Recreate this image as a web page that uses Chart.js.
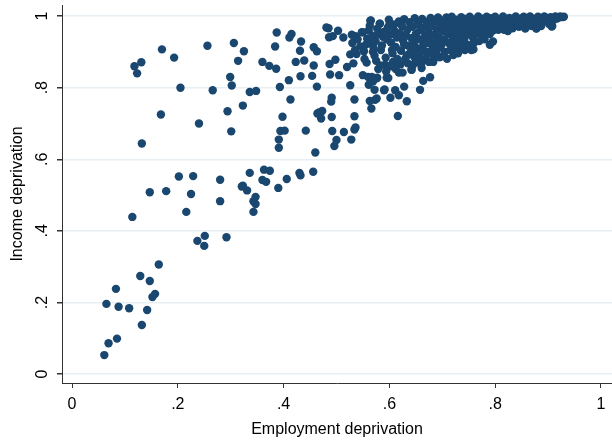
<!DOCTYPE html>
<html>
<head>
<meta charset="utf-8">
<script src="https://cdn.jsdelivr.net/npm/chart.js@4/dist/chart.umd.min.js"></script>
<style>
  html, body { margin: 0; padding: 0; background: #fff; }
  #wrap { width: 612px; height: 442px; }
</style>
</head>
<body>
<div id="wrap"><canvas id="chart" width="612" height="442"></canvas></div>
<script>
// tick values and labels
var xTickVals = [0, 0.2, 0.4, 0.6, 0.8, 1];
var xTickLabels = ["0", ".2", ".4", ".6", ".8", "1"];
var yTickVals = [0, 0.2, 0.4, 0.6, 0.8, 1];
var yTickLabels = ["0", ".2", ".4", ".6", ".8", "1"];

// scattered areas (employment deprivation, income deprivation)
var empLow = [0.061, 0.069, 0.085, 0.065, 0.088, 0.108, 0.083, 0.132, 0.142, 0.129, 0.147, 0.152, 0.157, 0.164,
  0.237, 0.251, 0.250, 0.292, 0.114, 0.147, 0.178, 0.202, 0.229, 0.225, 0.216, 0.280, 0.280, 0.321, 0.336,
  0.363, 0.374, 0.360, 0.367, 0.323, 0.331, 0.347, 0.343, 0.347, 0.343, 0.390, 0.406, 0.430, 0.432, 0.456];
var incLow = [0.053, 0.086, 0.099, 0.196, 0.188, 0.184, 0.238, 0.137, 0.179, 0.274, 0.260, 0.215, 0.224, 0.306,
  0.372, 0.386, 0.358, 0.382, 0.439, 0.508, 0.511, 0.552, 0.553, 0.503, 0.453, 0.543, 0.483, 0.524, 0.562,
  0.571, 0.568, 0.542, 0.537, 0.526, 0.513, 0.495, 0.483, 0.475, 0.453, 0.520, 0.545, 0.562, 0.555, 0.565];

var empMid = [0.170, 0.193, 0.256, 0.306, 0.325, 0.314, 0.118, 0.131, 0.123, 0.205, 0.266, 0.299, 0.302, 0.323,
  0.168, 0.240, 0.294, 0.301, 0.132, 0.387, 0.411, 0.415, 0.433, 0.384, 0.431, 0.457, 0.463, 0.485, 0.503,
  0.486, 0.493, 0.513, 0.360, 0.373, 0.386, 0.423, 0.439, 0.457, 0.432, 0.454, 0.410, 0.393, 0.463, 0.487,
  0.498, 0.488, 0.505, 0.526, 0.538, 0.520, 0.532, 0.526, 0.336, 0.348, 0.413, 0.491, 0.490, 0.534, 0.398,
  0.467, 0.473, 0.464, 0.471, 0.491, 0.534, 0.394, 0.402, 0.391, 0.391, 0.442, 0.492, 0.514, 0.534, 0.536,
  0.500, 0.496, 0.528, 0.460, 0.563, 0.573, 0.566, 0.550, 0.560, 0.577, 0.595, 0.592, 0.561, 0.572, 0.591,
  0.576, 0.481, 0.529, 0.536, 0.550, 0.564, 0.582, 0.589, 0.600, 0.609, 0.567, 0.569, 0.590, 0.611, 0.602,
  0.616, 0.579, 0.605, 0.618, 0.576, 0.598, 0.633, 0.618, 0.628, 0.658, 0.664, 0.677, 0.642, 0.645, 0.652,
  0.759, 0.790, 0.796, 0.667, 0.683, 0.696, 0.709, 0.721, 0.730, 0.743, 0.755, 0.878, 0.907];
var incMid = [0.907, 0.884, 0.917, 0.925, 0.902, 0.875, 0.860, 0.871, 0.840, 0.800, 0.793, 0.830, 0.806, 0.750,
  0.725, 0.700, 0.734, 0.678, 0.644, 0.954, 0.940, 0.950, 0.929, 0.915, 0.903, 0.913, 0.902, 0.966, 0.959,
  0.941, 0.944, 0.940, 0.872, 0.861, 0.853, 0.872, 0.876, 0.862, 0.832, 0.833, 0.821, 0.802, 0.803, 0.866,
  0.878, 0.837, 0.835, 0.893, 0.894, 0.858, 0.868, 0.807, 0.788, 0.791, 0.767, 0.772, 0.761, 0.767, 0.719,
  0.731, 0.735, 0.728, 0.714, 0.718, 0.720, 0.679, 0.680, 0.655, 0.632, 0.680, 0.679, 0.676, 0.683, 0.689,
  0.654, 0.637, 0.655, 0.619, 0.763, 0.766, 0.742, 0.835, 0.830, 0.828, 0.828, 0.864, 0.808, 0.794, 0.795,
  0.770, 0.968, 0.948, 0.944, 0.955, 0.987, 0.979, 0.954, 0.976, 0.976, 0.830, 0.817, 0.793, 0.793, 0.772,
  0.721, 0.852, 0.860, 0.842, 0.826, 0.827, 0.762, 0.779, 0.803, 0.794, 0.819, 0.829, 0.850, 0.864, 0.873,
  0.907, 0.920, 0.929, 0.877, 0.872, 0.886, 0.881, 0.891, 0.896, 0.905, 0.905, 0.965, 0.971];

// dense band in the upper right
var empBand = [0.530, 0.535, 0.540, 0.545, 0.548, 0.553, 0.557, 0.562, 0.569, 0.575,
  0.552, 0.556, 0.558, 0.561, 0.563, 0.565, 0.568, 0.570, 0.572, 0.574, 0.577, 0.579, 0.582, 0.584, 0.586,
  0.588, 0.590, 0.593, 0.595, 0.597, 0.599, 0.601, 0.603, 0.606, 0.608, 0.610, 0.612, 0.614, 0.616, 0.618,
  0.620, 0.622, 0.624, 0.626, 0.628, 0.630, 0.632, 0.634, 0.636, 0.638, 0.640, 0.642, 0.644, 0.646, 0.648,
  0.650, 0.652, 0.654, 0.656, 0.658, 0.660, 0.662, 0.664, 0.666, 0.668, 0.670, 0.672, 0.674, 0.676, 0.678,
  0.680, 0.682, 0.684, 0.686, 0.688, 0.690, 0.692, 0.694, 0.696, 0.698, 0.700,
  0.702, 0.704, 0.706, 0.708, 0.710, 0.712, 0.714, 0.716, 0.718, 0.720, 0.722, 0.724, 0.726, 0.728, 0.730,
  0.732, 0.734, 0.736, 0.738, 0.740, 0.742, 0.744, 0.746, 0.748, 0.750, 0.752, 0.754, 0.756, 0.758, 0.760,
  0.762, 0.764, 0.766, 0.768, 0.770, 0.772, 0.774, 0.776, 0.778, 0.780, 0.782, 0.784, 0.786, 0.788, 0.790,
  0.792, 0.794, 0.796, 0.798,
  0.800, 0.803, 0.806, 0.809, 0.812, 0.815, 0.818, 0.821, 0.824, 0.827, 0.830, 0.833, 0.836, 0.839, 0.842,
  0.845, 0.848, 0.851, 0.854, 0.857, 0.860, 0.863, 0.866, 0.869, 0.872, 0.875, 0.878, 0.881, 0.884, 0.887,
  0.890, 0.893, 0.896, 0.899, 0.902, 0.905, 0.908, 0.911, 0.914, 0.917, 0.920, 0.923, 0.927, 0.930,
  0.600, 0.612, 0.625, 0.635, 0.642, 0.650, 0.660, 0.668, 0.675, 0.685, 0.695, 0.705, 0.715, 0.725, 0.735,
  0.748, 0.760, 0.770, 0.780,
  0.605, 0.615, 0.628, 0.638, 0.648, 0.655, 0.663, 0.672, 0.681, 0.690, 0.699, 0.708, 0.717, 0.727, 0.737,
  0.747, 0.757, 0.767, 0.777, 0.787, 0.797, 0.807, 0.817, 0.827, 0.837, 0.847, 0.857, 0.867, 0.877, 0.887,
  0.897, 0.583, 0.594, 0.607, 0.621, 0.633, 0.647, 0.661, 0.679, 0.693];
var incBand = [0.925, 0.905, 0.935, 0.915, 0.955, 0.880, 0.870, 0.925, 0.900, 0.875,
  0.902, 0.921, 0.937, 0.960, 0.973, 0.988, 0.945, 0.912, 0.889, 0.930, 0.965, 0.950, 0.979, 0.905, 0.918,
  0.942, 0.956, 0.884, 0.935, 0.968, 0.990, 0.948, 0.926, 0.896, 0.976, 0.958, 0.914, 0.940, 0.870, 0.985,
  0.952, 0.903, 0.972, 0.931, 0.991, 0.880, 0.945, 0.962, 0.917, 0.983, 0.897, 0.938, 0.970, 0.925, 0.994,
  0.950, 0.910, 0.978, 0.888, 0.960, 0.935, 0.992, 0.918, 0.968, 0.945, 0.983, 0.900, 0.955, 0.930, 0.995,
  0.972, 0.912, 0.948, 0.985, 0.925, 0.962, 0.996, 0.940, 0.978, 0.918, 0.958,
  0.988, 0.935, 0.970, 0.996, 0.950, 0.925, 0.982, 0.963, 0.998, 0.940, 0.975, 0.955, 0.990, 0.930, 0.968,
  0.985, 0.948, 0.997, 0.960, 0.978, 0.938, 0.992, 0.965, 0.950, 0.983, 0.998, 0.958, 0.975, 0.940, 0.990,
  0.968, 0.952, 0.985, 0.999, 0.962, 0.978, 0.945, 0.993, 0.970, 0.955, 0.987, 0.998, 0.966, 0.980, 0.950,
  0.994, 0.972, 0.960, 0.988,
  0.998, 0.975, 0.962, 0.990, 0.982, 0.999, 0.970, 0.986, 0.958, 0.995, 0.978, 0.966, 0.991, 0.999, 0.981,
  0.970, 0.993, 0.985, 0.998, 0.975, 0.990, 0.982, 0.999, 0.972, 0.992, 0.985, 0.966, 0.998, 0.988, 0.980,
  0.995, 0.999, 0.986, 0.992, 0.978, 0.997, 0.972, 0.990, 0.999, 0.993, 0.996, 0.999, 0.997, 0.998,
  0.860, 0.852, 0.842, 0.868, 0.850, 0.873, 0.865, 0.880, 0.872, 0.888, 0.885, 0.900, 0.905, 0.910, 0.915,
  0.920, 0.925, 0.930, 0.935,
  0.905, 0.880, 0.920, 0.895, 0.905, 0.935, 0.902, 0.925, 0.945, 0.905, 0.930, 0.960, 0.920, 0.945, 0.930,
  0.965, 0.945, 0.975, 0.958, 0.968, 0.978, 0.985, 0.962, 0.975, 0.988, 0.978, 0.965, 0.990, 0.982, 0.972,
  0.995, 0.862, 0.845, 0.872, 0.865, 0.890, 0.886, 0.855, 0.895, 0.912];

var pts = [];
function addPoints(xs, ys) {
    for (var i = 0; i < xs.length; i++) {
        pts.push({x: xs[i], y: ys[i]});
    }
}
addPoints(empLow, incLow);
addPoints(empMid, incMid);
addPoints(empBand, incBand);

var fontFamily = "'Liberation Sans', Arial, Helvetica, sans-serif";
var navy = "rgb(26,71,111)";

// rotated y tick labels, Stata style
var yLabelPlugin = {
    id: "yLabels",
    afterDraw: function (chart) {
        var ctx = chart.ctx;
        var yScale = chart.scales.y;
        ctx.save();
        ctx.fillStyle = "#000";
        ctx.font = "16px " + fontFamily;
        ctx.textAlign = "center";
        ctx.textBaseline = "middle";
        for (var i = 0; i < yTickVals.length; i++) {
            var py = yScale.getPixelForValue(yTickVals[i]);
            ctx.save();
            ctx.translate(43, py);
            ctx.rotate(-Math.PI / 2);
            ctx.fillText(yTickLabels[i], 0, 0);
            ctx.restore();
        }
        ctx.restore();
    }
};

var chart = new Chart(document.getElementById("chart"), {
    type: "scatter",
    data: {
        datasets: [{
            label: "Income deprivation",
            data: pts,
            backgroundColor: navy,
            borderWidth: 0,
            pointRadius: 4.2,
            pointHoverRadius: 4.2
        }]
    },
    options: {
        responsive: false,
        animation: false,
        devicePixelRatio: 1,
        layout: {
            autoPadding: false,
            padding: {top: 5, right: 0, bottom: 0, left: 0}
        },
        plugins: {
            legend: {display: false},
            tooltip: {enabled: false}
        },
        scales: {
            x: {
                type: "linear",
                min: -0.019,
                max: 1.021,
                afterBuildTicks: function (scale) {
                    scale.ticks = xTickVals.map(function (v) { return {value: v}; });
                },
                afterFit: function (scale) {
                    scale.height = 59;
                    scale.paddingLeft = 0;
                    scale.paddingRight = 0;
                },
                ticks: {
                    color: "#000",
                    padding: 7,
                    maxRotation: 0,
                    font: {family: fontFamily, size: 16},
                    callback: function (value) {
                        var idx = xTickVals.indexOf(value);
                        return idx >= 0 ? xTickLabels[idx] : "";
                    }
                },
                grid: {
                    drawOnChartArea: false,
                    drawTicks: true,
                    tickLength: 5,
                    tickColor: "#333"
                },
                border: {display: true, color: "#333", width: 1},
                title: {
                    display: true,
                    text: "Employment deprivation",
                    color: "#000",
                    font: {family: fontFamily, size: 16},
                    padding: {top: 0, bottom: 3}
                }
            },
            y: {
                type: "linear",
                min: -0.025,
                max: 1.031,
                afterBuildTicks: function (scale) {
                    scale.ticks = yTickVals.map(function (v) { return {value: v}; });
                },
                afterFit: function (scale) {
                    scale.width = 62;
                    scale.paddingTop = 0;
                    scale.paddingBottom = 0;
                },
                ticks: {display: false},
                grid: {
                    color: "rgb(232,239,243)",
                    lineWidth: 1.5,
                    drawTicks: true,
                    tickLength: 5,
                    tickColor: "#333"
                },
                border: {display: true, color: "#333", width: 1},
                title: {
                    display: true,
                    text: "Income deprivation",
                    color: "#000",
                    font: {family: fontFamily, size: 16},
                    padding: {top: 8, bottom: 0}
                }
            }
        }
    },
    plugins: [yLabelPlugin]
});
</script>
</body>
</html>
